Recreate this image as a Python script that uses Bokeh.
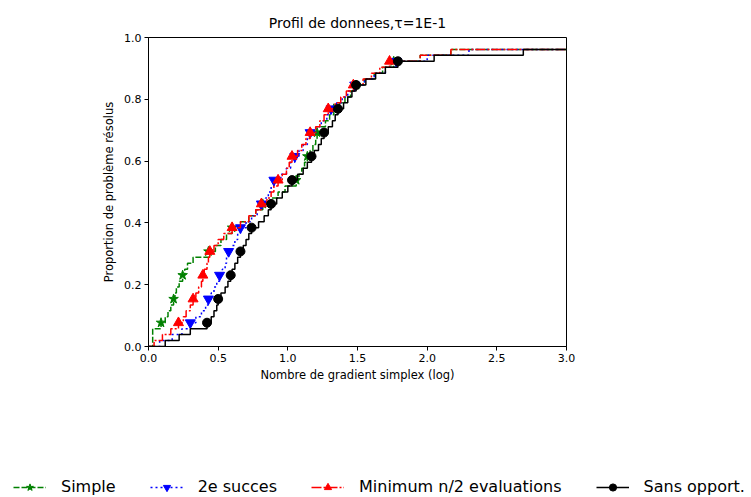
from bokeh.plotting import figure
from bokeh.models import Range1d, FixedTicker, NumeralTickFormatter, Legend, LegendItem
from bokeh.layouts import column
from bokeh.embed import file_html
from bokeh.resources import INLINE

# ---- data (log10 of performance ratio at which each problem is solved) ----
n_problems = 52
mark_every = 4
x_max = 3.0

x_simple = [0.03, 0.03, 0.03, 0.09, 0.12, 0.14, 0.16, 0.18, 0.19, 0.20, 0.22, 0.245,
            0.26, 0.28, 0.32, 0.43, 0.48, 0.52, 0.56, 0.60, 0.66, 0.72, 0.77, 0.82,
            0.88, 0.93, 0.98, 1.06, 1.08, 1.10, 1.12, 1.14, 1.16, 1.18, 1.20, 1.21,
            1.24, 1.27, 1.30, 1.33, 1.37, 1.41, 1.45, 1.49, 1.55, 1.62, 1.68, 1.76,
            1.95, 2.17]
x_2esucces = [0.08, 0.17, 0.24, 0.30, 0.34, 0.38, 0.41, 0.43, 0.45, 0.47, 0.49, 0.51,
              0.53, 0.55, 0.56, 0.575, 0.60, 0.62, 0.64, 0.66, 0.70, 0.74, 0.78, 0.81,
              0.84, 0.86, 0.88, 0.90, 0.95, 0.99, 1.02, 1.05, 1.08, 1.11, 1.14, 1.16,
              1.20, 1.24, 1.28, 1.31, 1.35, 1.39, 1.43, 1.48, 1.55, 1.62, 1.70, 1.78,
              2.00, 2.30]
x_minimum = [0.04, 0.10, 0.16, 0.215, 0.25, 0.27, 0.30, 0.32, 0.34, 0.36, 0.38, 0.39,
             0.40, 0.42, 0.43, 0.44, 0.47, 0.50, 0.54, 0.60, 0.66, 0.72, 0.77, 0.81,
             0.85, 0.88, 0.90, 0.93, 0.96, 0.99, 1.01, 1.03, 1.07, 1.10, 1.13, 1.16,
             1.20, 1.23, 1.26, 1.29, 1.34, 1.38, 1.42, 1.47, 1.54, 1.60, 1.66, 1.73,
             1.95, 2.17]
x_sans = [0.12, 0.22, 0.30, 0.42, 0.45, 0.47, 0.49, 0.50, 0.52, 0.55, 0.57, 0.59,
          0.60, 0.62, 0.64, 0.66, 0.68, 0.70, 0.72, 0.74, 0.79, 0.83, 0.86, 0.88,
          0.92, 0.96, 1.00, 1.03, 1.07, 1.11, 1.14, 1.17, 1.19, 1.22, 1.24, 1.26,
          1.29, 1.32, 1.34, 1.36, 1.40, 1.43, 1.46, 1.49, 1.56, 1.63, 1.70, 1.79,
          2.05, 2.69]

series_names = ["Simple", "2e succes", "Minimum n/2 evaluations", "Sans opport."]
series_x = [x_simple, x_2esucces, x_minimum, x_sans]
series_colors = ["#008000", "#0000ff", "#ff0000", "#000000"]
series_dash = ["6 2", "2 3", "10 2 2 2", "solid"]
series_marker = ["star", "inverted_triangle", "triangle", "circle"]
series_msize = [10, 10, 10, 9]

x_ticks = [0.0, 0.5, 1.0, 1.5, 2.0, 2.5, 3.0]
y_ticks = [0.0, 0.2, 0.4, 0.6, 0.8, 1.0]

FONT = "DejaVu Sans"
MAIN_H = 455
LEG_H = 42

p = figure(width=751, height=MAIN_H, output_backend="svg", toolbar_location=None,
           x_range=Range1d(0, x_max), y_range=Range1d(0, 1.0),
           min_border_left=148, min_border_right=185, min_border_top=37,
           min_border_bottom=MAIN_H - 346)
p.frame_align = False
p.title.text = "Profil de donnees,\u03c4=1E-1"
p.title.align = "center"
p.title.text_font = FONT
p.title.text_font_size = "14px"
p.title.text_font_style = "normal"
p.title.text_color = "#000000"
p.title.standoff = 13

p.xgrid.visible = False
p.ygrid.visible = False
p.outline_line_color = "#000000"
p.outline_line_width = 1
p.outline_line_alpha = 1

for ax in (p.xaxis[0], p.yaxis[0]):
    ax.axis_line_color = "#000000"
    ax.major_tick_line_color = "#000000"
    ax.major_tick_out = 4
    ax.major_tick_in = 0
    ax.minor_tick_line_color = None
    ax.major_label_text_font = FONT
    ax.major_label_text_font_size = "11px"
    ax.major_label_text_color = "#000000"
    ax.axis_label_text_font = FONT
    ax.axis_label_text_font_size = "11.5px"
    ax.axis_label_text_font_style = "normal"
    ax.axis_label_text_color = "#000000"
    ax.formatter = NumeralTickFormatter(format="0.0")

p.xaxis.ticker = FixedTicker(ticks=x_ticks)
p.yaxis.ticker = FixedTicker(ticks=y_ticks)
p.xaxis.axis_label = "Nombre de gradient simplex (log)"
p.yaxis.axis_label = "Proportion de problème résolus"
p.xaxis.major_label_standoff = 3
p.yaxis.major_label_standoff = 3
p.xaxis.axis_label_standoff = 3
p.yaxis.axis_label_standoff = 5

# legend strip: a second figure whose view lies outside the data
leg = figure(width=751, height=LEG_H, output_backend="svg", toolbar_location=None,
             x_range=Range1d(10, 11), y_range=Range1d(10, 11),
             x_axis_type=None, y_axis_type=None, min_border=0)
leg.frame_align = False
leg.xgrid.visible = False
leg.ygrid.visible = False
leg.outline_line_color = None

items = []
for name, xs, col, dash, mk, ms in zip(series_names, series_x, series_colors,
                                       series_dash, series_marker, series_msize):
    ys = [(i + 1) / n_problems for i in range(len(xs))]
    sx = [0.0] + xs + [x_max]
    sy = [0.0] + ys + [ys[-1]]
    mx = [xs[i] for i in range(len(xs)) if (i + 1) % mark_every == 0]
    my = [ys[i] for i in range(len(xs)) if (i + 1) % mark_every == 0]
    p.step(sx, sy, mode="after", line_color=col, line_width=1.5, line_dash=dash)
    p.scatter(mx, my, marker=mk, size=ms, fill_color=col, line_color=col)
    l_line = leg.step(sx, sy, mode="after", line_color=col, line_width=1.5,
                      line_dash=dash)
    l_mk = leg.scatter(mx, my, marker=mk, size=ms, fill_color=col, line_color=col)
    items.append(LegendItem(label=name, renderers=[l_line, l_mk]))

legend = Legend(items=items, orientation="horizontal", location=(13, 1),
                label_text_font=FONT, label_text_font_size="16px",
                label_text_color="#000000",
                glyph_width=33, glyph_height=18, label_standoff=15, spacing=34,
                padding=0, margin=0, border_line_alpha=0, background_fill_alpha=0)
leg.add_layout(legend, "center")

layout = column(p, leg, spacing=0)
open("out.html", "w").write(file_html(layout, INLINE))
